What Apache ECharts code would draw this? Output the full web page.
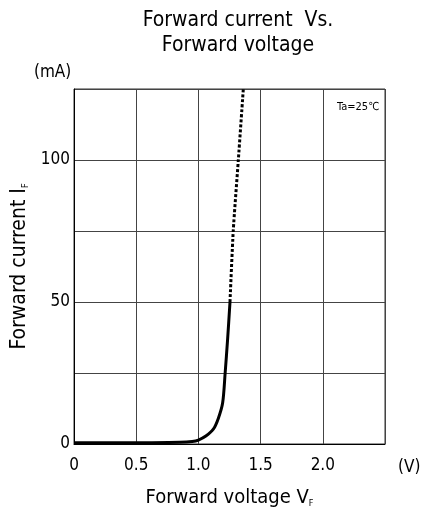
<!DOCTYPE html>
<html>
<head>
<meta charset="utf-8">
<script src="https://cdn.jsdelivr.net/npm/echarts@6/dist/echarts.min.js"></script>
<style>
  html, body { margin: 0; padding: 0; background: #fff; }
  #chart { width: 423px; height: 515px; }
</style>
</head>
<body>
<div id="chart"></div>
<script>
// measured curve, solid part (V, mA)
var solidV = [0, 0.3, 0.6, 0.85, 0.95, 1.0, 1.06, 1.12, 1.16, 1.195, 1.215, 1.235, 1.254];
var solidI = [0.4, 0.4, 0.45, 0.6, 0.9, 1.4, 2.8, 5.2, 9, 14.5, 25, 37, 50];
// extrapolated part, dashed
var dashV = [1.254, 1.28, 1.321, 1.361];
var dashI = [50, 75, 100, 125];

var xTicks = ['0', '0.5', '1.0', '1.5', '2.0', ''];
var yTicks = {0: '0', 50: '50', 100: '100'};

var fontFam = "'Liberation Sans Narrow', 'DejaVu Sans Condensed', sans-serif";

function pairs(xs, ys) {
    var out = [];
    for (var i = 0; i < xs.length; i++) out.push([xs[i], ys[i]]);
    return out;
}

var myChart = echarts.init(document.getElementById("chart"));
var option = {
    animation: false,
    backgroundColor: '#fff',
    textStyle: { fontFamily: fontFam, color: '#000' },
    title: {
        text: 'Forward current  Vs.\nForward voltage',
        left: 233,
        top: 3,
        textAlign: 'center',
        textStyle: { fontFamily: fontFam, fontSize: 21, fontWeight: 'normal', color: '#000', lineHeight: 25 }
    },
    grid: {
        left: 74, right: 38, top: 89, bottom: 71,
        show: true, borderColor: '#333', borderWidth: 1
    },
    xAxis: {
        type: 'value',
        min: 0, max: 2.5, interval: 0.5,
        name: '{a|Forward voltage V}{s|F}',
        nameLocation: 'middle',
        nameGap: 44,
        nameTextStyle: {
            rich: {
                a: { fontFamily: fontFam, fontSize: 20, color: '#000' },
                s: { fontFamily: fontFam, fontSize: 9, color: '#000', verticalAlign: 'bottom', padding: [8, 0, 0, 0] }
            }
        },
        axisLine: { show: true, lineStyle: { color: '#000', width: 1 } },
        axisTick: { show: false },
        axisLabel: {
            fontSize: 17, color: '#000', fontFamily: fontFam, margin: 13,
            formatter: function (v) { return xTicks[Math.round(v / 0.5)]; }
        },
        splitLine: { show: true, lineStyle: { color: '#444', width: 1 } }
    },
    yAxis: {
        type: 'value',
        min: 0, max: 125, interval: 25,
        name: '{a|Forward current I}{s|F}',
        nameLocation: 'middle',
        nameGap: 44,
        nameTextStyle: {
            rich: {
                a: { fontFamily: fontFam, fontSize: 21, color: '#000' },
                s: { fontFamily: fontFam, fontSize: 9, color: '#000', verticalAlign: 'bottom', padding: [8, 0, 0, 0] }
            }
        },
        axisLine: { show: true, lineStyle: { color: '#000', width: 1 } },
        axisTick: { show: false },
        axisLabel: {
            fontSize: 17, color: '#000', fontFamily: fontFam, margin: 4,
            formatter: function (v) { return yTicks[v] !== undefined ? yTicks[v] : ''; }
        },
        splitLine: { show: true, lineStyle: { color: '#444', width: 1 } }
    },
    graphic: [
        { type: 'text', left: 34, top: 64, style: { text: '(mA)', font: '17px ' + fontFam, fill: '#000' } },
        { type: 'text', left: 398, top: 459, style: { text: '(V)', font: '17px ' + fontFam, fill: '#000' } },
        { type: 'text', left: 337, top: 102, style: { text: 'Ta=25℃', font: '11px ' + fontFam, fill: '#000' } }
    ],
    series: [
        {
            type: 'line',
            data: pairs(solidV, solidI),
            symbol: 'none',
            smooth: 0.3,
            lineStyle: { color: '#000', width: 3 }
        },
        {
            type: 'line',
            data: pairs(dashV, dashI),
            symbol: 'none',
            smooth: 0.2,
            lineStyle: { color: '#000', width: 3, type: [3, 2] }
        }
    ]
};
myChart.setOption(option);
</script>
</body>
</html>
